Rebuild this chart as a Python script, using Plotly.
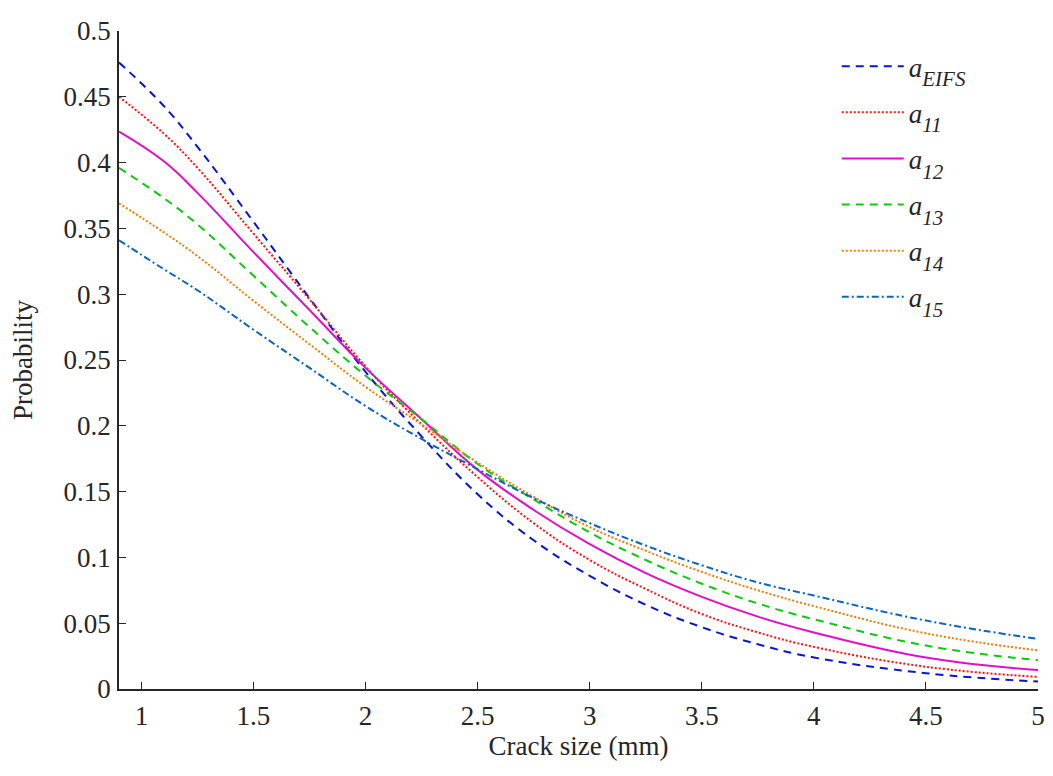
import plotly.graph_objects as go

crack_size = [0.9, 1.1, 1.25, 1.5, 1.75, 2.0, 2.25, 2.5, 2.75, 3.0, 3.25, 3.5, 3.75, 4.0, 4.5, 5.0]

a_eifs = [0.476, 0.443, 0.412, 0.355, 0.297, 0.241, 0.192, 0.148, 0.113, 0.086, 0.064, 0.047, 0.034, 0.024, 0.012, 0.0057]
a_11 = [0.450, 0.422, 0.396, 0.346, 0.296, 0.245, 0.201, 0.161, 0.126, 0.098, 0.076, 0.057, 0.043, 0.032, 0.0169, 0.0092]
a_12 = [0.4236, 0.401, 0.377, 0.332, 0.288, 0.244, 0.205, 0.1665, 0.136, 0.110, 0.088, 0.070, 0.055, 0.043, 0.0239, 0.0144]
a_13 = [0.396, 0.373, 0.353, 0.314, 0.275, 0.238, 0.205, 0.171, 0.144, 0.119, 0.098, 0.080, 0.065, 0.053, 0.033, 0.0219]
a_14 = [0.369, 0.347, 0.329, 0.295, 0.262, 0.2296, 0.201, 0.172, 0.146, 0.123, 0.105, 0.089, 0.075, 0.063, 0.0423, 0.0293]
a_15 = [0.341, 0.319, 0.303, 0.273, 0.244, 0.215, 0.190, 0.167, 0.145, 0.126, 0.109, 0.094, 0.081, 0.071, 0.052, 0.038]

subs = ["EIFS", "11", "12", "13", "14", "15"]
names = ["<i>a</i><sub><sub><span style='font-size:21px'><i>%s</i></span></sub></sub>" % s for s in subs]
series = [a_eifs, a_11, a_12, a_13, a_14, a_15]
colors = ["#0a14d2", "#ff1010", "#e010c8", "#10c810", "#f07d00", "#0a64c0"]
dashes = ["8px,6px", "2px,2px", "solid", "8px,6px", "2px,2px", "7px,3px,2px,3px"]

fig = go.Figure()
for i, (nm, ys, c, d) in enumerate(zip(names, series, colors, dashes)):
    fig.add_trace(go.Scatter(
        x=crack_size, y=ys, mode="lines", name=nm,
        line=dict(color=c, width=2, dash=d, shape="spline", smoothing=1.2),
        legendgroup=str(i),
    ))

axis_color = "#262626"
fig.update_layout(
    width=1045, height=768,
    margin=dict(l=111, r=8, t=11, b=87),
    paper_bgcolor="white", plot_bgcolor="white",
    font=dict(family="Liberation Serif", size=27, color=axis_color),
    showlegend=True,
    legend=dict(
        x=0.781, y=0.983, xanchor="left", yanchor="top",
        bgcolor="rgba(0,0,0,0)", borderwidth=0,
        font=dict(size=27, color=axis_color),
        tracegroupgap=8, itemwidth=62,
    ),
    xaxis=dict(
        range=[0.9, 5], tick0=1, dtick=0.5,
        showline=True, linecolor=axis_color, linewidth=1.5,
        ticks="inside", ticklen=7, tickcolor=axis_color, tickwidth=1.2,
        showgrid=False, zeroline=False, mirror=False,
        ticklabelstandoff=2, ticklabeloverflow="allow",
        title=dict(text="Crack size (mm)", standoff=0, font=dict(size=27)),
        tickfont=dict(size=27),
    ),
    yaxis=dict(
        range=[0, 0.5], tick0=0, dtick=0.05,
        showline=True, linecolor=axis_color, linewidth=1.5,
        ticks="inside", ticklen=7, tickcolor=axis_color, tickwidth=1.2,
        showgrid=False, zeroline=False, mirror=False,
        ticklabelstandoff=1, ticklabeloverflow="allow",
        title=dict(text="Probability", standoff=23, font=dict(size=27)),
        tickfont=dict(size=27),
    ),
)

fig.write_html("out.html")
